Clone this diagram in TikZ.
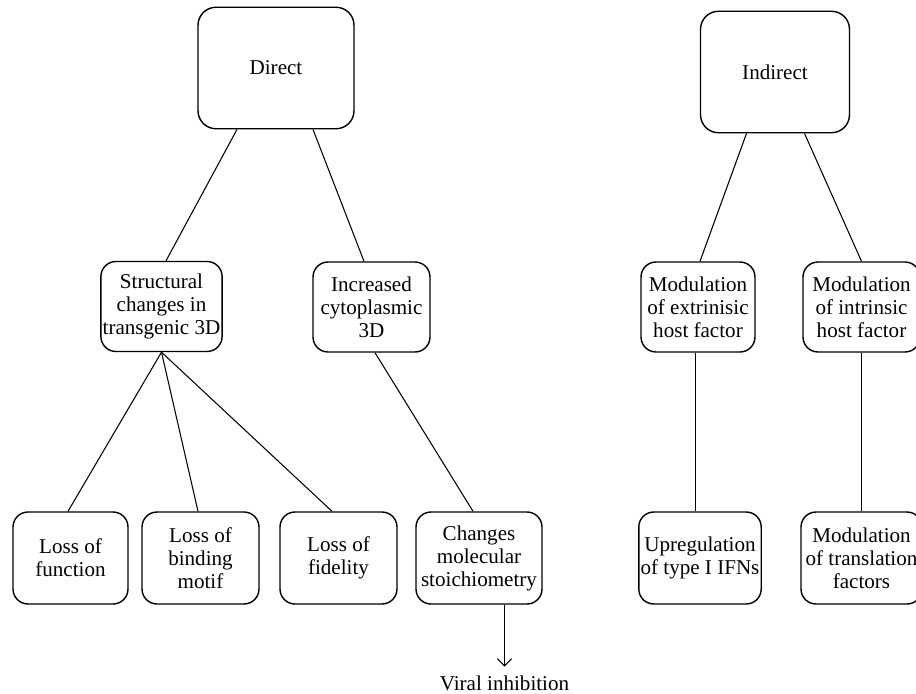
\documentclass[tikz,border=0pt]{standalone}
\usepackage{fontspec}
\setmainfont{Liberation Serif}
\usepackage{tikz}
\usetikzlibrary{arrows,arrows.meta,shapes}
\usetikzlibrary{positioning}
\usetikzlibrary{calc}
\tikzstyle{cat}=[draw,rectangle,rounded corners=0.36cm,line width=0.8pt,align=center,
  minimum height=2.43cm,inner sep=1pt,font=\fontsize{12}{13.1}\selectfont]
\tikzstyle{mech}=[draw,rectangle,rounded corners=0.3cm,line width=0.8pt,align=center,
  minimum width=2.34cm,minimum height=1.8cm,inner sep=1pt,font=\fontsize{12}{13.1}\selectfont]
\tikzstyle{effect}=[mech,minimum height=1.84cm]
\tikzstyle{link} = [draw,line width=0.6pt,black,>={Straight Barb[length=4pt,width=8pt]}]
\tikzstyle{outcome}=[inner xsep=0pt,inner ysep=0.17cm,anchor=base,font=\fontsize{12}{13.1}\selectfont]

\begin{document}
\begin{tikzpicture}[x=0.02cm,y=-0.02cm]
\useasboundingbox (0,0) rectangle (916,693);
\begin{scope}
	\node[cat,minimum width=3.12cm] (dir) at (276,68) {Direct};
	
	\node[mech] (str) at (161.5,306.5) {Structural\\changes in\\transgenic 3D};
	\node[mech] (inc) at (371.5,307) {Increased\\cytoplasmic\\3D};
	
	\node[effect,minimum width=2.3cm] (lfun) at (70.5,558) {Loss of\\function};
	\node[effect] (lbin) at (200.5,558) {Loss of\\binding\\motif};
	\node[effect] (lfid) at (338.5,558) {Loss of\\fidelity};
	\node[effect,minimum width=2.52cm] (chg) at (479,558) {Changes\\molecular\\stoichiometry};
	
	\node[outcome] (vir) at (504.5,690) {Viral inhibition};
	

	\path[link] ($(dir.south)+(-39,0)$) -- ($(str.north)+(4.5,0)$);
	\path[link] ($(dir.south)+(37,0)$) -- ($(inc.north)+(-7.5,0)$);
	
	\path[link] (str.south) -- ($(lfun.north)+(-2.5,0)$);
	\path[link] (str.south) -- ($(lbin.north)+(-2.5,0)$);
	\path[link] (str.south) -- ($(lfid.north)+(-6.5,0)$);
	
	\path[link] ($(inc.south)+(3.5,0)$) -- ($(chg.north)+(-6,0)$);
	
	\path[link,->] (chg.south -| vir.north) -- (vir.north);
\end{scope}
\begin{scope}
	\node[cat,minimum width=2.98cm] (ind) at (775,72) {Indirect};
	
	\node[mech,minimum width=2.28cm] (ext) at (698,307) {Modulation\\of extrinisic\\host factor};
	\node[mech] (int) at (861.5,307) {Modulation\\of intrinsic\\host factor};
	
	\node[effect,minimum width=2.4cm] (upr) at (700,558) {Upregulation\\of type I IFNs};
	\node[effect,minimum width=2.42cm] (mtr) at (861.5,558) {Modulation\\of translation\\factors};
	

	\path[link] ($(ind.south)+(-28.5,0)$) -- ($(ext.north)+(2,0)$);
	\path[link] ($(ind.south)+(29.5,0)$) -- (int.north);
	
	\path[link] ($(ext.south)+(-2.5,0)$) -- ($(upr.north)+(-4.5,0)$);
	\path[link] (int.south) -- (mtr.north);
\end{scope}
\end{tikzpicture}
\end{document}
